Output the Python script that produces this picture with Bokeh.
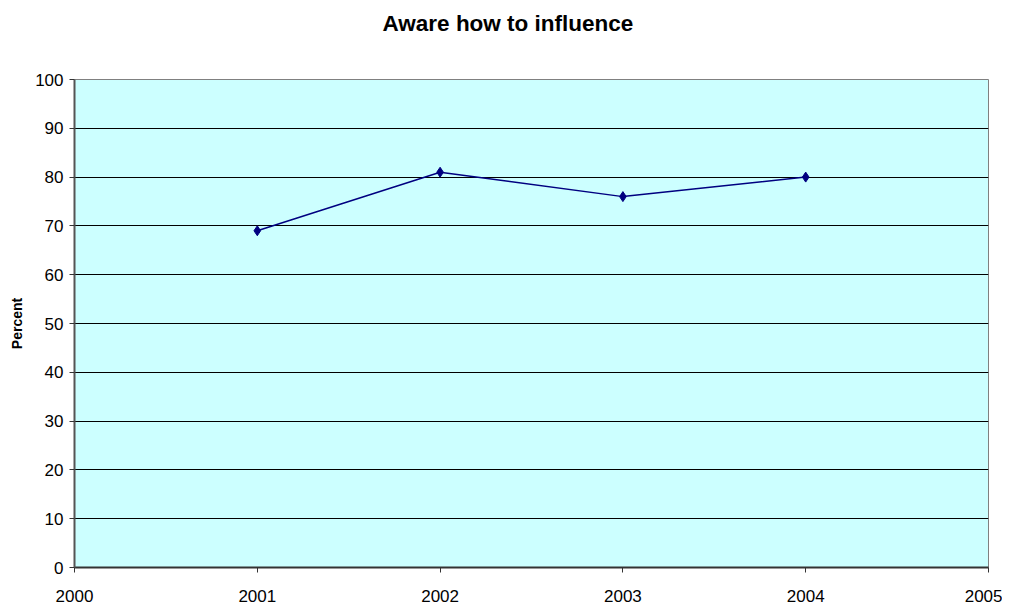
from bokeh.plotting import figure
from bokeh.models import Range1d, FixedTicker, Title
from bokeh.embed import file_html
from bokeh.resources import INLINE

years = [2001, 2002, 2003, 2004]
percent = [69, 81, 76, 80]
x_ticks = [2000, 2001, 2002, 2003, 2004, 2005]
y_ticks = [0, 10, 20, 30, 40, 50, 60, 70, 80, 90, 100]
title_text = "Aware how to influence"
y_label = "Percent"

FONT = "Liberation Sans"

p = figure(
    output_backend="svg", toolbar_location=None,
    frame_width=914, frame_height=488,
    min_border_left=74, min_border_right=14,
    min_border_top=79, min_border_bottom=25,
    x_range=Range1d(2000, 2005), y_range=Range1d(0, 100),
    border_fill_color="white",
    title=title_text,
)
p.background_fill_color = "#CCFFFF"
p.outline_line_color = "#808080"
p.outline_line_width = 1

p.title.text_font = FONT
p.title.text_font_size = "22.5px"
p.title.text_font_style = "bold"
p.title.text_color = "black"
p.title.align = "left"
p.title.offset = 308
p.title.standoff = 17

# empty spacer between the title and the plot area
spacer = Title(text=" ", text_font_size="10px", standoff=22, text_color="white")
p.add_layout(spacer, "above")

p.xgrid.visible = False
p.ygrid.grid_line_color = "black"
p.ygrid.grid_line_width = 1
p.ygrid.ticker = FixedTicker(ticks=y_ticks)

p.xaxis.ticker = FixedTicker(ticks=x_ticks)
p.yaxis.ticker = FixedTicker(ticks=y_ticks)
for ax in (p.xaxis, p.yaxis):
    ax.major_tick_out = 5
    ax.major_tick_in = 0
    ax.minor_tick_out = 0
    ax.minor_tick_in = 0
    ax.major_label_text_font = FONT
    ax.major_label_text_font_size = "17px"
    ax.major_label_text_color = "black"
    ax.axis_line_width = 2
    ax.major_tick_line_color = "#333333"
p.xaxis.axis_line_color = "#333333"
p.yaxis.axis_line_color = "#555555"
p.xaxis.major_label_standoff = 17
p.yaxis.major_label_standoff = 6

p.yaxis.axis_label = y_label
p.yaxis.axis_label_text_font = FONT
p.yaxis.axis_label_text_font_size = "14px"
p.yaxis.axis_label_text_font_style = "bold"
p.yaxis.axis_label_text_color = "black"
p.yaxis.axis_label_standoff = 7

p.line(years, percent, line_color="#000080", line_width=1.5)
p.scatter(years, percent, marker="diamond", size=10,
          fill_color="#000080", line_color="#000080")

open("out.html", "w").write(file_html(p, INLINE))
